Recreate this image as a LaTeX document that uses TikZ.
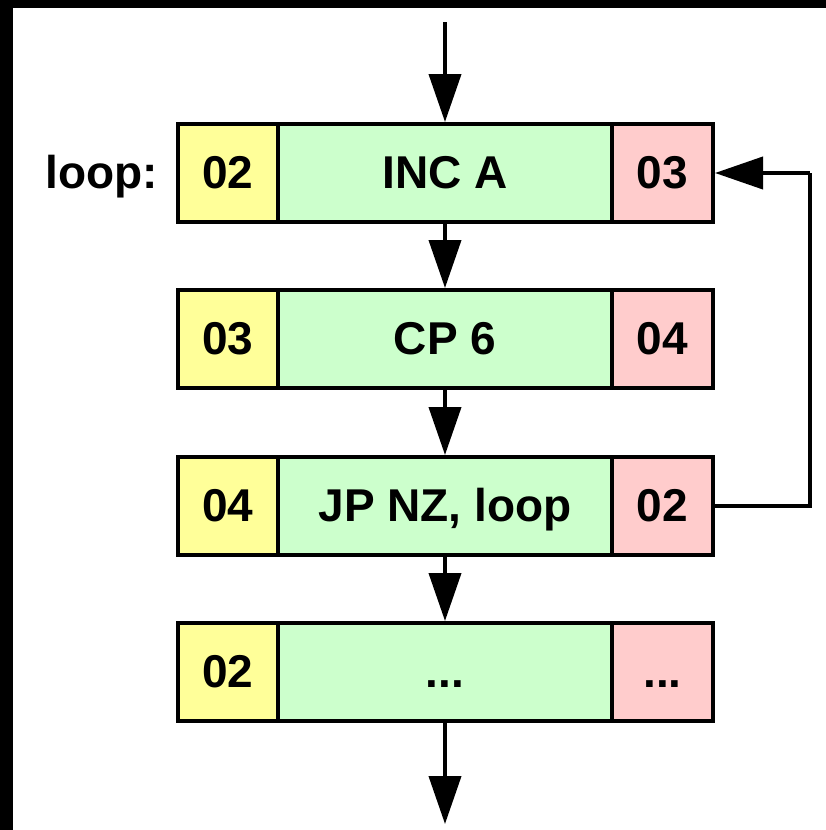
\documentclass[tikz,border=0pt]{standalone}
\usepackage{fontspec}
\setmainfont{Liberation Sans}
\usetikzlibrary{arrows.meta}
\definecolor{cyel}{HTML}{FFFF99}
\definecolor{cgrn}{HTML}{CCFFCC}
\definecolor{cred}{HTML}{FFCCCC}
\tikzset{
  txt/.style={font=\fontsize{46}{50}\selectfont\bfseries, text height=31pt, text depth=0pt},
  cell/.style={txt, draw=black, line width=4pt, minimum height=98pt, inner sep=0pt, anchor=center},
  ycell/.style={cell, fill=cyel, minimum width=100pt},
  gcell/.style={cell, fill=cgrn, minimum width=334pt},
  rcell/.style={cell, fill=cred, minimum width=101pt},
  flow/.style={line width=4pt, -{Triangle[length=48pt,width=32pt]}},
  link/.style={line width=4pt}
}
\newcommand{\mkrow}[5]{%
  \node[ycell] (y#1) at (228,#2) {#3};
  \node[gcell] (g#1) at (445,#2) {#4};
  \node[rcell] (r#1) at (662.5,#2) {#5};
}
\begin{document}
\begin{tikzpicture}[x=1pt,y=-1pt]
\useasboundingbox (0,0) rectangle (826,830);
\fill[black] (0,0) rectangle (13,830);
\fill[black] (0,0) rectangle (826,8);
\mkrow{1}{173}{02}{INC A}{03}
\mkrow{2}{339}{03}{CP 6}{04}
\mkrow{3}{506}{04}{JP NZ, loop}{02}
\mkrow{4}{672}{02}{...}{...}
\node[txt, inner sep=0pt, anchor=east] (lbl) at (158,173) {loop:};
\coordinate (top) at (445,22);
\coordinate (bot) at (445,824);
\coordinate (c1) at (810,506);
\coordinate (c2) at (810,173);
\draw[flow] (top) -- (g1.north);
\draw[flow] (g1.south) -- (g2.north);
\draw[flow] (g2.south) -- (g3.north);
\draw[flow] (g3.south) -- (g4.north);
\draw[flow] (g4.south) -- (bot);
\draw[link] (r3.east) -- (c1) -- (c2);
\draw[flow] (c2) -- (r1.east);
\end{tikzpicture}
\end{document}
